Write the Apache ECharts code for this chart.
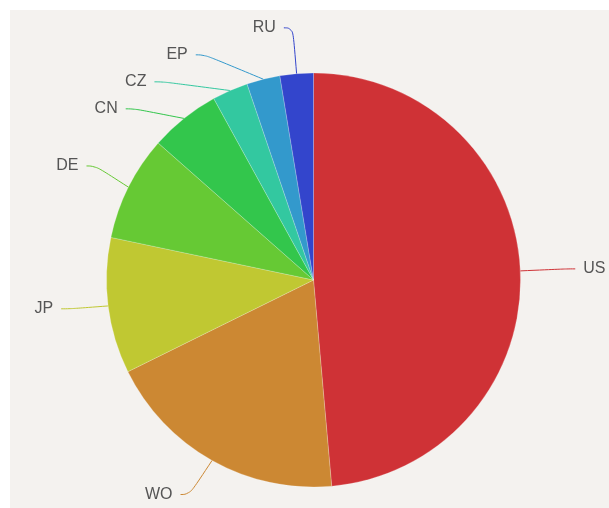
<!DOCTYPE html>
<html>
<head>
<meta charset="utf-8">
<script src="https://cdn.jsdelivr.net/npm/echarts@6/dist/echarts.min.js"></script>
<style>
  html, body { margin: 0; padding: 0; background: #ffffff; }
  #chart { position: absolute; left: 10px; top: 10px; width: 599px; height: 498px; background: #f4f2ef; }
</style>
</head>
<body>
<div id="chart"></div>
<script>
// Share per office (percent), listed clockwise from twelve o'clock
const offices = ['US', 'WO', 'JP', 'DE', 'CN', 'CZ', 'EP', 'RU'];
const shares = [48.6, 19.1, 10.6, 8.2, 5.5, 2.8, 2.6, 2.6];
const sliceColors = ['#cf3236', '#cc8833', '#c0c832', '#66c934', '#33c64c', '#33c8a0', '#3399cc', '#3345cc'];

const chart = echarts.init(document.getElementById('chart'), null, { renderer: 'canvas' });

const pieData = offices.map((name, i) => ({
  name: name,
  value: shares[i],
  itemStyle: { color: sliceColors[i] }
}));

chart.setOption({
  backgroundColor: '#f4f2ef',
  animation: false,
  series: [{
    type: 'pie',
    center: [303.5, 270],
    radius: 207,
    startAngle: 90,
    clockwise: true,
    avoidLabelOverlap: true,
    data: pieData,
    itemStyle: { borderColor: 'rgba(255,255,255,0.35)', borderWidth: 0.6 },
    label: {
      show: true,
      formatter: '{b}',
      color: '#555555',
      fontFamily: 'Liberation Sans, Arial, sans-serif',
      fontSize: 16,
      lineHeight: 25,
      overflow: 'none',
      distanceToLabelLine: 8
    },
    labelLine: {
      show: true,
      length: 46,
      length2: 9,
      smooth: 0.5,
      lineStyle: { width: 1 }
    }
  }]
});
</script>
</body>
</html>
